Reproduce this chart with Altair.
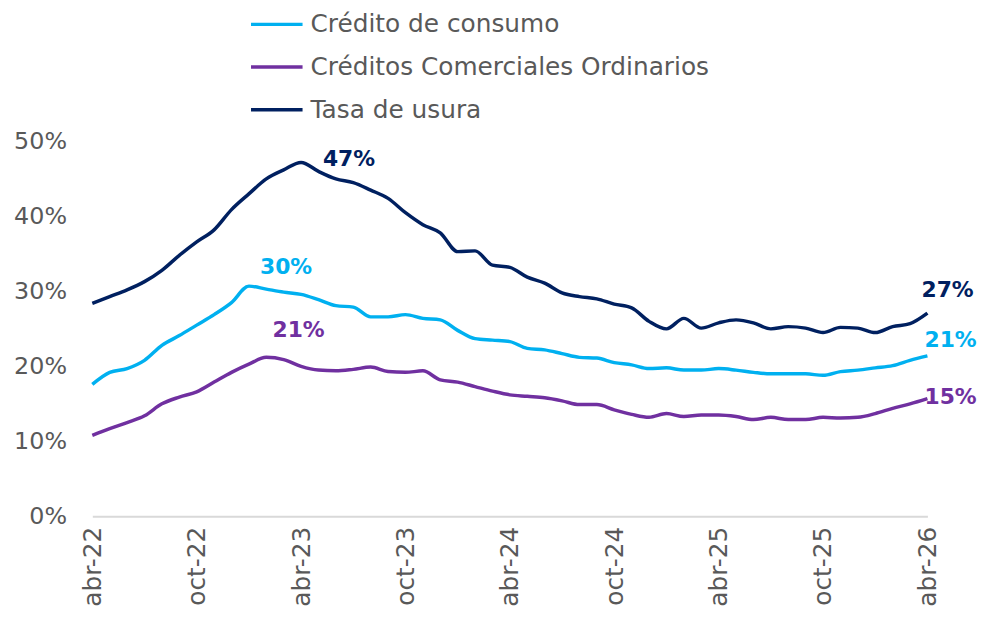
import altair as alt
import pandas as pd

tick_labels = ["abr-22", "oct-22", "abr-23", "oct-23", "abr-24", "oct-24", "abr-25", "oct-25", "abr-26"]
series_names = ["Crédito de consumo", "Créditos Comerciales Ordinarios", "Tasa de usura"]
series_colors = ["#00B0F0", "#7030A0", "#002060"]

# monthly values, abr-22 .. abr-26 (49 months), in %
consumo = [17.6, 19.2, 19.7, 20.8, 22.8, 24.1, 25.5, 26.9, 28.5, 30.7,
           30.3, 29.9, 29.6, 28.9, 28.1, 27.9, 26.6, 26.6, 26.9, 26.4,
           26.2, 24.8, 23.7, 23.5, 23.3, 22.4, 22.2, 21.7, 21.2, 21.1,
           20.5, 20.2, 19.7, 19.8, 19.5, 19.5, 19.7, 19.5, 19.2, 19.0,
           19.0, 19.0, 18.8, 19.3, 19.5, 19.8, 20.1, 20.8, 21.4]
comerciales = [10.8, 11.7, 12.5, 13.4, 15.0, 15.9, 16.6, 17.9, 19.2, 20.3,
               21.2, 20.9, 20.0, 19.5, 19.4, 19.6, 19.9, 19.3, 19.2, 19.4,
               18.2, 17.9, 17.3, 16.7, 16.2, 16.0, 15.8, 15.4, 14.9, 14.9,
               14.2, 13.6, 13.2, 13.7, 13.3, 13.5, 13.5, 13.3, 12.9, 13.2,
               12.9, 12.9, 13.2, 13.1, 13.2, 13.7, 14.4, 15.0, 15.7]
usura = [28.4, 29.3, 30.2, 31.3, 32.8, 34.8, 36.6, 38.2, 40.9, 43.0,
         45.0, 46.2, 47.2, 46.0, 45.0, 44.5, 43.5, 42.4, 40.5, 38.9,
         37.8, 35.3, 35.4, 33.5, 33.2, 31.9, 31.1, 29.8, 29.3, 29.0,
         28.3, 27.8, 26.0, 25.0, 26.4, 25.1, 25.8, 26.2, 25.8, 25.0,
         25.3, 25.1, 24.5, 25.2, 25.1, 24.5, 25.3, 25.7, 27.1]

# annotated points: (series, month index, text, dx, dy, align)
annotations = [
    ("Tasa de usura", 12, "47%", 22, -3, "left"),
    ("Crédito de consumo", 10, "30%", 20, -22, "center"),
    ("Créditos Comerciales Ordinarios", 11, "21%", 15, -30, "center"),
    ("Tasa de usura", 48, "27%", -6, -23, "left"),
    ("Crédito de consumo", 48, "21%", -3, -16, "left"),
    ("Créditos Comerciales Ordinarios", 48, "15%", -3, -2, "left"),
]

FONT = "DejaVu Sans"
GRAY = "#595959"

rows = []
for name, vals in zip(series_names, [consumo, comerciales, usura]):
    for i, v in enumerate(vals):
        rows.append({"serie": name, "m": i, "v": v})
df = pd.DataFrame(rows)

label_expr = "[" + ",".join("'%s'" % t for t in tick_labels) + "][datum.value / 6]"

color_scale = alt.Scale(domain=series_names, range=series_colors)

x_enc = alt.X("m:Q", scale=alt.Scale(domain=[0, 48], nice=False),
              axis=alt.Axis(values=list(range(0, 49, 6)), labelExpr=label_expr,
                            labelAngle=-90, labelFontSize=25, labelFont=FONT,
                            labelColor=GRAY, labelPadding=10, ticks=False,
                            grid=False, domainColor="#D9D9D9", domainWidth=2,
                            title=None))
y_enc = alt.Y("v:Q", scale=alt.Scale(domain=[0, 50], nice=False),
              axis=alt.Axis(values=[0, 10, 20, 30, 40, 50],
                            labelExpr="datum.value + '%'", labelFontSize=24,
                            labelFont=FONT, labelColor=GRAY, labelPadding=26,
                            ticks=False, grid=False, domain=False, title=None))

lines = alt.Chart(df).mark_line(strokeWidth=3.5, interpolate="monotone").encode(
    x=x_enc,
    y=y_enc,
    color=alt.Color("serie:N", scale=color_scale,
                    legend=alt.Legend(orient="none", legendX=158, legendY=-146,
                                      direction="vertical", title=None,
                                      labelFont=FONT, labelFontSize=25,
                                      labelColor=GRAY, symbolType="stroke",
                                      symbolSize=2700, symbolStrokeWidth=3.5,
                                      labelOffset=6, rowPadding=2,
                                      labelLimit=600)),
)

layers = [lines]
vals_by = dict(zip(series_names, [consumo, comerciales, usura]))
for name, idx, txt, dx, dy, align in annotations:
    adf = pd.DataFrame([{"serie": name, "m": idx, "v": vals_by[name][idx], "t": txt}])
    layers.append(
        alt.Chart(adf).mark_text(font=FONT, fontSize=22, fontWeight="bold",
                                 dx=dx, dy=dy, align=align, baseline="middle").encode(
            x="m:Q", y="v:Q", text="t:N",
            color=alt.Color("serie:N", scale=color_scale, legend=None))
    )

chart = alt.layer(*layers).properties(
    width=842, height=378,
    autosize=alt.AutoSizeParams(type="none"),
    padding={"left": 85, "top": 132, "right": 52, "bottom": 98},
).configure_view(stroke=None)

chart.save("out.html", embed_options={"renderer": "svg", "actions": False})
